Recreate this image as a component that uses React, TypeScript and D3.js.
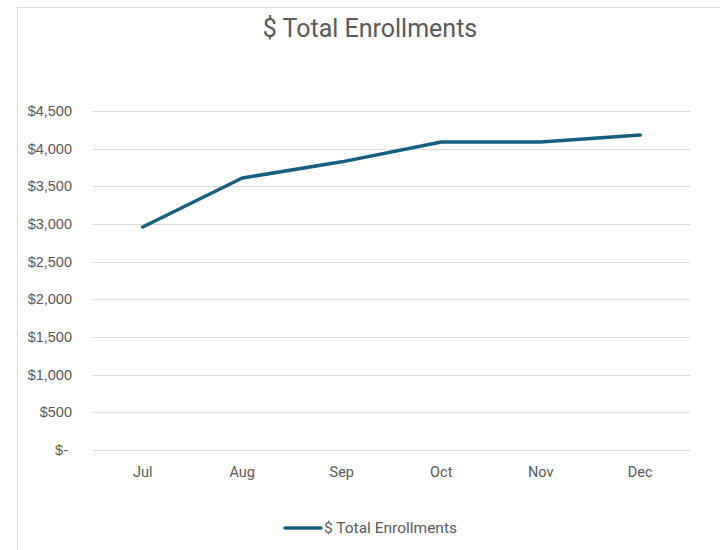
import React from "react";
import * as d3 from "d3";

const months = ["Jul", "Aug", "Sep", "Oct", "Nov", "Dec"];
const enrollments = [2960, 3610, 3825, 4088, 4088, 4180];
const yTicks = [0, 500, 1000, 1500, 2000, 2500, 3000, 3500, 4000, 4500];
const seriesName = "$ Total Enrollments";
const chartTitle = "$ Total Enrollments";

const W = 720;
const H = 550;
const plot = { left: 93, right: 690, top: 111, bottom: 450 };
const lineColor = "#156082";
const textColor = "#595959";
const narrowFont = "Roboto, 'Liberation Sans', sans-serif";
const tickFont = "'Liberation Sans', Arial, sans-serif";

export default function App() {
  const x = d3.scaleBand<string>().domain(months).range([plot.left, plot.right]);
  const y = d3.scaleLinear().domain([0, 4500]).range([plot.bottom, plot.top]);
  const cx = (m: string) => (x(m) ?? 0) + x.bandwidth() / 2;
  const line = d3
    .line<number>()
    .x((_, i) => cx(months[i]))
    .y((d) => y(d));
  const fmt = (v: number) => (v === 0 ? "$-" : "$" + d3.format(",")(v));

  return (
    <svg
      width={W}
      height={H}
      style={{ position: "absolute", left: 0, top: 0, background: "#fff" }}
    >
      <rect x={17.5} y={7.5} width={W + 10} height={H + 10} fill="#fff" stroke="#d9d9d9" strokeWidth={1} />
      <text
        x={370}
        y={37}
        textAnchor="middle"
        fontFamily={narrowFont}
        fontSize={25}
        fill={textColor}
      >
        {chartTitle}
      </text>
      {yTicks.map((t) => (
        <g key={t}>
          <line
            x1={plot.left}
            x2={plot.right}
            y1={Math.round(y(t)) + 0.5}
            y2={Math.round(y(t)) + 0.5}
            stroke="#d9d9d9"
            strokeWidth={1}
          />
          <text
            x={t === 0 ? 68 : 72}
            y={y(t)}
            dy="0.35em"
            textAnchor="end"
            fontFamily={tickFont}
            fontSize={14.5}
            fill={textColor}
          >
            {fmt(t)}
          </text>
        </g>
      ))}
      {months.map((m) => (
        <text
          key={m}
          x={cx(m)}
          y={472}
          dy="0.35em"
          textAnchor="middle"
          fontFamily={narrowFont}
          fontSize={14.5}
          fill={textColor}
        >
          {m}
        </text>
      ))}
      <path
        d={line(enrollments) ?? ""}
        fill="none"
        stroke={lineColor}
        strokeWidth={3.5}
        strokeLinecap="round"
        strokeLinejoin="round"
      />
      <line x1={285} x2={321} y1={528} y2={528} stroke={lineColor} strokeWidth={3.5} strokeLinecap="round" />
      <text
        x={324}
        y={528}
        dy="0.35em"
        fontFamily={narrowFont}
        fontSize={15.5}
        fill={textColor}
      >
        {seriesName}
      </text>
    </svg>
  );
}
